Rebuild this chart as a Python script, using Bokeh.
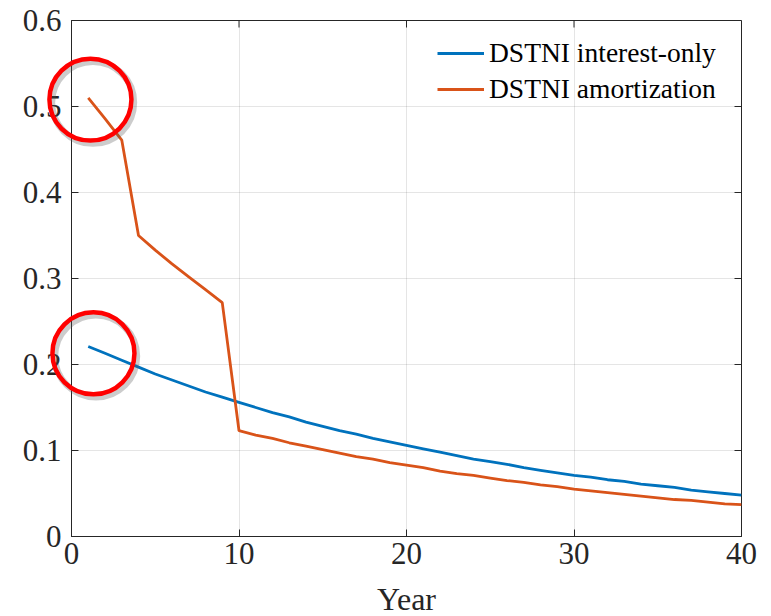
from bokeh.plotting import figure
from bokeh.models import (Range1d, FixedTicker, Legend, LegendItem)
from bokeh.core.properties import value
from bokeh.embed import file_html
from bokeh.resources import INLINE

years = list(range(1, 41))
interest_only = [0.221, 0.213, 0.205, 0.197, 0.189, 0.182, 0.175, 0.168, 0.162, 0.156,
                 0.150, 0.144, 0.139, 0.133, 0.128, 0.123, 0.119, 0.114, 0.110, 0.106,
                 0.102, 0.098, 0.094, 0.090, 0.087, 0.084, 0.080, 0.077, 0.074, 0.071,
                 0.069, 0.066, 0.064, 0.061, 0.059, 0.057, 0.054, 0.052, 0.050, 0.048]
amortization = [0.510, 0.486, 0.461, 0.350, 0.333, 0.317, 0.302, 0.287, 0.272, 0.123,
                0.118, 0.114, 0.109, 0.105, 0.101, 0.097, 0.093, 0.090, 0.086, 0.083,
                0.080, 0.076, 0.073, 0.071, 0.068, 0.065, 0.063, 0.060, 0.058, 0.055,
                0.053, 0.051, 0.049, 0.047, 0.045, 0.043, 0.042, 0.040, 0.038, 0.037]
series_names = ["DSTNI interest-only", "DSTNI amortization"]
x_ticks = [0, 10, 20, 30, 40]
y_ticks = [0, 0.1, 0.2, 0.3, 0.4, 0.5, 0.6]
y_tick_labels = ["0", "0.1", "0.2", "0.3", "0.4", "0.5", "0.6"]
x_label = "Year"
# highlight circles (data coords of centres)
circle_x = [1.13, 1.31]
circle_y = [0.508, 0.213]

FONT = "Liberation Serif"
AX = "#262626"
BLUE = "#0072BD"
ORANGE = "#D95319"

W, H = 763, 616
ML, MT, MR, MB = 71, 20, 22, 80
FW, FH = W - ML - MR, H - MT - MB
XMAX, YMAX = 40.0, 0.6
PX_X = XMAX / FW   # data units per pixel, x
PX_Y = YMAX / FH   # data units per pixel, y

p = figure(width=W, height=H, output_backend="svg", toolbar_location=None,
           x_range=Range1d(0, XMAX), y_range=Range1d(0, YMAX),
           min_border_left=ML, min_border_top=MT, min_border_right=MR,
           min_border_bottom=MB, background_fill_color="white",
           border_fill_color="white")
p.outline_line_color = AX
p.outline_line_width = 1

for ax in (p.xaxis[0], p.yaxis[0]):
    ax.major_label_text_font = FONT
    ax.major_label_text_font_size = "31px"
    ax.major_label_text_color = AX
    ax.axis_line_color = AX
    ax.major_tick_line_color = AX
    ax.major_tick_in = 7
    ax.major_tick_out = 0
    ax.minor_tick_line_color = None
p.xaxis[0].ticker = FixedTicker(ticks=x_ticks)
p.yaxis[0].ticker = FixedTicker(ticks=y_ticks)
p.yaxis[0].major_label_overrides = {t: l for t, l in zip(y_ticks, y_tick_labels)}
p.xaxis[0].major_label_standoff = 6
p.yaxis[0].major_label_standoff = 10

p.xgrid.ticker = FixedTicker(ticks=x_ticks)
p.ygrid.ticker = FixedTicker(ticks=y_ticks)
for g in (p.xgrid[0], p.ygrid[0]):
    g.grid_line_color = AX
    g.grid_line_alpha = 0.12

# inward ticks on top and right edges (box on)
p.segment(x0=x_ticks, x1=x_ticks, y0=[YMAX] * len(x_ticks),
          y1=[YMAX - 7 * PX_Y] * len(x_ticks), line_color=AX, line_width=1)
p.segment(x0=[XMAX] * len(y_ticks), x1=[XMAX - 7 * PX_X] * len(y_ticks),
          y0=y_ticks, y1=y_ticks, line_color=AX, line_width=1)

r1 = p.line(years, interest_only, line_color=BLUE, line_width=2.8)
r2 = p.line(years, amortization, line_color=ORANGE, line_width=2.8)

legend = Legend(items=[LegendItem(label=series_names[0], renderers=[r1]),
                       LegendItem(label=series_names[1], renderers=[r2])],
                background_fill_alpha=0, border_line_alpha=0,
                label_text_font=FONT, label_text_font_size="27.5px", label_text_color="black",
                glyph_width=47, glyph_height=30, label_standoff=5, spacing=4,
                padding=6, margin=0)
legend.location = (FW - 310, FH - 91)
p.add_layout(legend)

# x axis label, drawn below the frame (unclipped overlay text)
p.text(x=[XMAX / 2], y=[-62 * PX_Y], text=[x_label], text_font=value(FONT),
       text_font_size="32px", text_color=AX, text_align="center",
       text_baseline="middle", level="overlay")

# highlight circles with soft shadow
R_PX = 41
p.scatter([cx + 2.5 * PX_X for cx in circle_x], [cy - 3 * PX_Y for cy in circle_y],
          size=2 * R_PX, marker="circle", fill_alpha=0, line_color="#555555",
          line_alpha=0.3, line_width=6.5, level="overlay")
p.scatter(circle_x, circle_y, size=2 * R_PX, marker="circle", fill_alpha=0,
          line_color="#FF0000", line_width=4.5, level="overlay")

open("out.html", "w").write(file_html(p, INLINE))
